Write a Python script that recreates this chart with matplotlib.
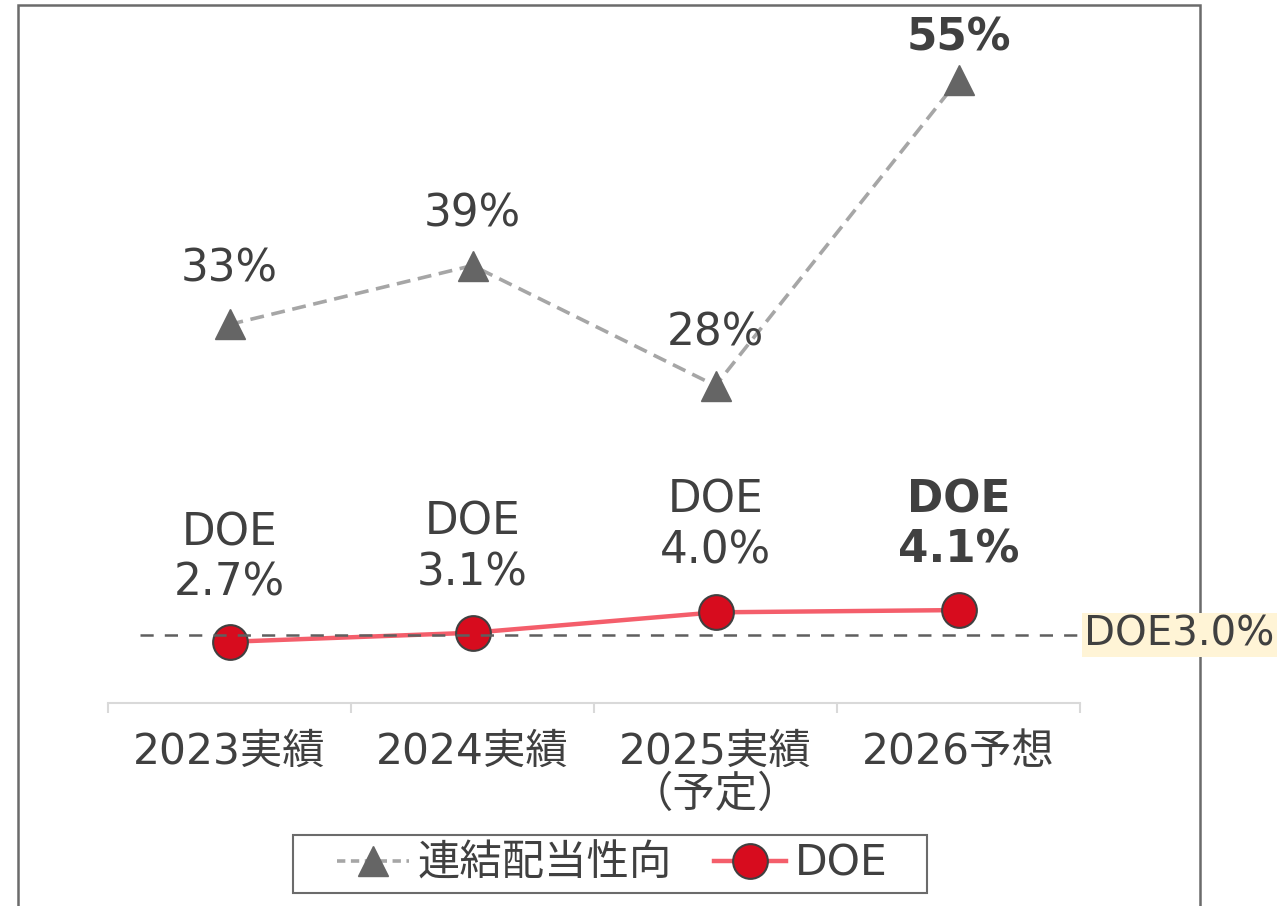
import matplotlib
matplotlib.use("Agg")
import matplotlib.pyplot as plt
from matplotlib.patches import Rectangle
from matplotlib.lines import Line2D

plt.rcParams['font.family'] = ['DejaVu Sans', 'Noto Sans CJK JP']
plt.rcParams['lines.scale_dashes'] = False

categories = ["2023実績", "2024実績", "2025実績\n（予定）", "2026予想"]
payout_ratio = [33.4, 38.6, 28.0, 55.0]
payout_labels = ["33%", "39%", "28%", "55%"]
doe_values = [2.7, 3.1, 4.0, 4.1]
doe_labels = ["DOE\n2.7%", "DOE\n3.1%", "DOE\n4.0%", "DOE\n4.1%"]
doe_target = 3.0
doe_target_label = "DOE3.0%"
legend_labels = ["連結配当性向", "DOE"]

TXT = '#404040'
FS_LAB = 31.5
FS_TICK = 30.5

W, H = 1279, 906
fig = plt.figure(figsize=(W / 100, H / 100), dpi=100)
ax = fig.add_axes([108 / W, 203 / H, 972 / W, 680 / H])
ax2 = ax.twinx()

x = list(range(len(categories)))

# Payout ratio
ax.plot(x, payout_ratio, color='#a6a6a6', lw=2.6, dashes=(10, 5.5),
        marker='^', markersize=21, markerfacecolor='#656565',
        markeredgecolor='#656565', zorder=3)
pay_offsets = [55, 52, 53, 42]
for i, (v, lab) in enumerate(zip(payout_ratio, payout_labels)):
    ax.annotate(lab, (i, v), xytext=(0, pay_offsets[i]), textcoords='offset pixels',
                ha='center', va='center', fontsize=FS_LAB, color=TXT,
                fontweight='bold' if i == 3 else 'normal')

ax.set_xlim(-0.5, len(categories) - 0.5)
ax.set_ylim(0, 60)
ax2.set_ylim(0, 30)

# DOE
ax2.plot(x, doe_values, color='#f45e6b', lw=3.2, marker='o', markersize=25,
         markerfacecolor='#d70c1e', markeredgecolor='#404040', markeredgewidth=1.5,
         zorder=3)
doe_offsets = [84, 85, 87, 85]
for i, (v, lab) in enumerate(zip(doe_values, doe_labels)):
    ax2.annotate(lab, (i, v), xytext=(0, doe_offsets[i]), textcoords='offset pixels',
                 ha='center', va='center', fontsize=FS_LAB, color=TXT, linespacing=1.22,
                 fontweight='bold' if i == 3 else 'normal')

# Target line
ax2.axhline(doe_target, xmin=0.033, xmax=1.0, color='#5f5f5f', lw=1.8,
            dashes=(9.5, 8), zorder=5)
ax2.annotate(doe_target_label, (len(categories) - 0.5, doe_target), xytext=(4, 0),
             textcoords='offset pixels', ha='left', va='center', fontsize=29,
             color=TXT, annotation_clip=False, zorder=10,
             bbox=dict(boxstyle='square,pad=0.06', facecolor='#fff4d6', edgecolor='none'))

# Axes styling
for a in (ax, ax2):
    for s in ('left', 'right', 'top'):
        a.spines[s].set_visible(False)
    a.set_yticks([])
ax2.spines['bottom'].set_visible(False)
ax.spines['bottom'].set_color('#d9d9d9')
ax.spines['bottom'].set_linewidth(1.5)
ax.set_xticks(x)
ax.set_xticklabels(categories, fontsize=FS_TICK, color=TXT)
for t in ax.get_xticklabels():
    t.set_linespacing(1.05)
ax.tick_params(axis='x', which='major', length=0, pad=20)
ax.set_xticks([i - 0.5 for i in range(len(categories) + 1)], minor=True)
ax.tick_params(axis='x', which='minor', length=7, width=1.5, color='#d9d9d9')

# Outer frame
fig.patches.append(Rectangle((18 / W, -0.05), (1200 - 18) / W, (H - 5) / H + 0.05,
                             transform=fig.transFigure, fill=False,
                             edgecolor='#6b6b6b', lw=1.8, zorder=-1))

# Legend
handles = [
    Line2D([], [], color='#a6a6a6', lw=2.6, dashes=(6, 4), marker='^', markersize=21,
           markerfacecolor='#656565', markeredgecolor='#656565'),
    Line2D([], [], color='#f45e6b', lw=3.2, marker='o', markersize=25,
           markerfacecolor='#d70c1e', markeredgecolor='#404040', markeredgewidth=1.5),
]
fig.legend(handles, legend_labels, loc='center', bbox_to_anchor=(612 / W, 1 - 864 / H),
           ncol=2, frameon=False, fontsize=30.5, handlelength=1.7, handletextpad=0.2,
           columnspacing=1.0, labelcolor=TXT)
fig.patches.append(Rectangle((293 / W, 1 - 893 / H), (927 - 293) / W, (893 - 835) / H,
                             transform=fig.transFigure, fill=False,
                             edgecolor='#6b6b6b', lw=1.5, zorder=-1))

fig.savefig('out.png', dpi=100, facecolor='white')
